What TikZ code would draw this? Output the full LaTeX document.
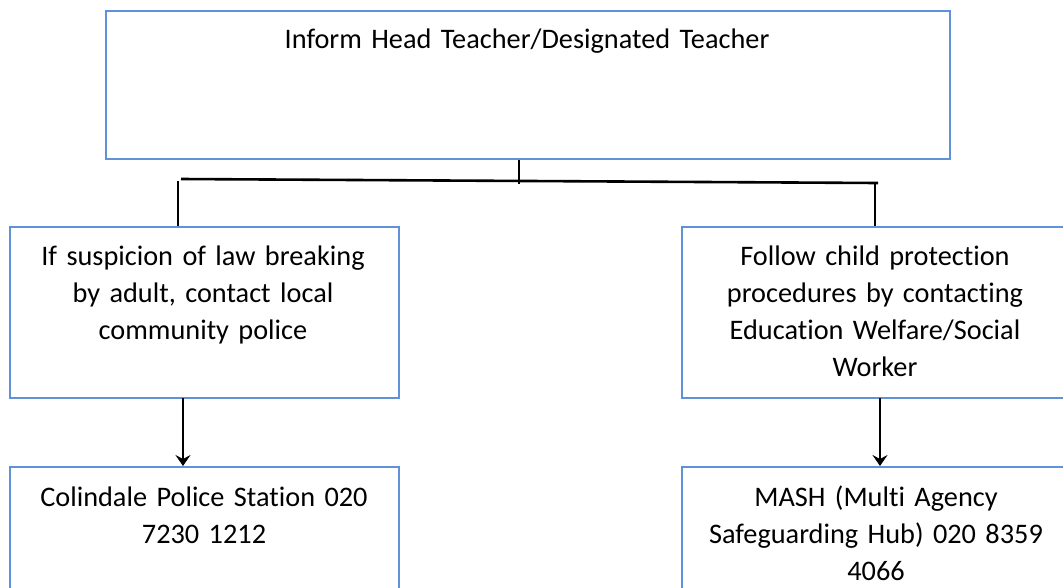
\documentclass[tikz,border=0pt]{standalone}
\usepackage{fontspec}
\setmainfont{Carlito}[Ligatures={NoCommon,NoRequired,NoContextual}]
\usetikzlibrary{arrows.meta}
\definecolor{boxblue}{RGB}{96,146,218}
\newcommand{\boxfont}{\fontsize{28.3}{37}\selectfont}
\tikzset{
  box/.style={draw=boxblue, line width=2pt, fill=white, minimum width=#1, inner sep=0pt},
  txt/.style={anchor=north, inner sep=0pt, align=center, text width=#1, font=\boxfont},
  txt/.default=380pt,
  conn/.style={draw=black, line width=1.7pt},
  bar/.style={draw=black, line width=2.6pt},
  arr/.style={draw=black, line width=1.7pt, -{Stealth[length=11pt,width=15pt,inset=4pt]}}
}
\begin{document}
\begin{tikzpicture}[x=1pt,y=-1pt]
\useasboundingbox (0,0) rectangle (1063,587);
\clip (0,0) rectangle (1063,587);
\fill[white] (0,0) rectangle (1063,587);
% boxes
\node[box=844pt, minimum height=148pt] (top) at (528,84.5) {};
\node[box=388.5pt, minimum height=171.5pt] (lm) at (204.25,312.25) {};
\node[box=388pt, minimum height=171.5pt] (rm) at (876,312.25) {};
\node[box=388.5pt, minimum height=180pt] (lb) at (204.25,557) {};
\node[box=388pt, minimum height=180pt] (rb) at (876,557) {};
% texts
\node[txt=800pt] (ttop) at (527,22.1) {\strut Inform Head Teacher/Designated Teacher};
\node[txt] (tlm) at (203,239.1) {\strut If suspicion of law breaking\\by adult, contact local\\community police};
\node[txt] (trm) at (875,239.1) {\strut Follow child protect\kern0pt ion\\procedures by contact\kern0pt ing\\Educat\kern0pt ion Welfare/Social\\Worker};
\node[txt] (tlb) at (204,480.1) {\strut Colindale Police Stat\kern0pt ion 020\\7230 1212};
\node[txt] (trb) at (876,480.1) {\strut MASH (Mult\kern0pt i Agency\\Safeguarding Hub) 020 8359\\4066};
% connectors
\coordinate (hl) at (181,179);
\coordinate (hr) at (878,183);
\coordinate (hm) at (519,183.5);
\coordinate (vl) at (178,181);
\coordinate (vr) at (875,183);
\coordinate (al) at (183,398);
\coordinate (ar) at (880,398);
\draw[conn] (top.south -| hm) -- (hm);
\draw[bar] (hl) -- (hr);
\draw[conn] (vl) -- (vl |- lm.north);
\draw[conn] (vr) -- (vr |- rm.north);
\draw[arr] (al) -- (al |- lb.north);
\draw[arr] (ar) -- (ar |- rb.north);
\end{tikzpicture}
\end{document}
